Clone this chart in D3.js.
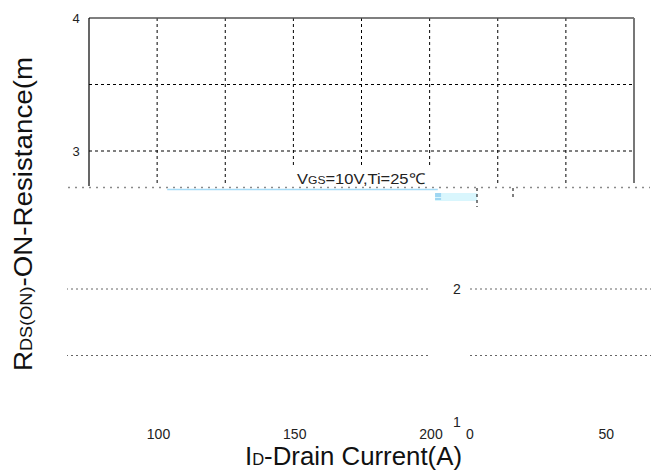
<!DOCTYPE html>
<html><head><meta charset="utf-8">
<script src="https://cdn.jsdelivr.net/npm/d3@7"></script>
<style>body{margin:0;background:#fff}svg{display:block}text{font-family:"Liberation Sans",Arial,sans-serif}</style>
</head><body><svg id="c" width="658" height="473"></svg>
<script>
// ---- data ----
const xTicks = [0, 50, 100, 150, 200];
const xGrid = [25, 50, 75, 100, 125, 150, 175];
const yTicksTop = [4, 3];
const yTicksBottom = [2, 1];
const yGridTop = [3.5, 3];
const yGridBottom = [2, 1.5];
const seriesX = [28.7, 128];
const seriesY = [2.71, 2.71];
const legendMain = "V", legendSub = "GS", legendRest = "=10V,Ti=25℃";

const svg = d3.select("#c");
const x = d3.scaleLinear().domain([0, 200]).range([89, 634]);
const y = d3.scaleLinear().domain([1, 4]).range([417, 18]);

const defs = svg.append("defs");
defs.append("clipPath").attr("id","topclip").append("rect").attr("x",0).attr("y",0).attr("width",658).attr("height",186);
defs.append("clipPath").attr("id","botclip").append("rect").attr("x",67).attr("y",188).attr("width",584).attr("height",285);

// ---- top (intact) part ----
const gTop = svg.append("g").attr("clip-path","url(#topclip)");
gTop.selectAll(".hg").data(yGridTop).join("line")
  .attr("x1", x(0)).attr("x2", x(200)).attr("y1", d=>y(d)).attr("y2", d=>y(d))
  .attr("stroke","#000").attr("stroke-dasharray","3,3");
gTop.selectAll(".vg").data(xGrid).join("line")
  .attr("x1", d=>x(d)).attr("x2", d=>x(d)).attr("y1", y(4)).attr("y2", 185)
  .attr("stroke","#000").attr("stroke-dasharray","3,3");
gTop.append("line").attr("x1",x(0)).attr("x2",x(200)).attr("y1",y(4)).attr("y2",y(4)).attr("stroke","#555").attr("stroke-width",1.5);
gTop.append("line").attr("x1",x(0)).attr("x2",x(0)).attr("y1",y(4)).attr("y2",187).attr("stroke","#000").attr("stroke-width",1.2);
gTop.append("line").attr("x1",x(200)).attr("x2",x(200)).attr("y1",y(4)).attr("y2",183).attr("stroke","#777").attr("stroke-width",2);
gTop.selectAll(".yt").data(yTicksTop).join("text")
  .attr("x", x(0)-13).attr("y", d=>y(d)).attr("dy","0.36em").attr("text-anchor","middle")
  .attr("font-size",13).attr("fill","#222").text(d=>d);

// legend box
svg.append("rect").attr("x",292).attr("y",168).attr("width",140).attr("height",18).attr("fill","#fff");

// ---- glitch strip ----
svg.append("line").attr("x1",68).attr("x2",650).attr("y1",187.5).attr("y2",187.5)
  .attr("stroke","#8a8a8a").attr("stroke-dasharray","2,5").attr("stroke-width",1.5);
svg.append("line").attr("x1",x(seriesX[0])).attr("x2",x(seriesX[1]))
  .attr("y1",y(seriesY[0])).attr("y2",y(seriesY[1])).attr("stroke","#a6dcf7").attr("stroke-width",1.5);
svg.append("rect").attr("x",x(127)).attr("y",193).attr("width",42).attr("height",8).attr("fill","#d9f6fd");
svg.append("rect").attr("x",x(127)).attr("y",193).attr("width",6).attr("height",4).attr("fill","#9fd6f2");
svg.append("rect").attr("x",x(127)).attr("y",198).attr("width",6).attr("height",2).attr("fill","#9fd6f2");
svg.selectAll(".frag").data([[477,188,207],[513,188,200]]).join("line")
  .attr("x1",d=>d[0]).attr("x2",d=>d[0]).attr("y1",d=>d[1]).attr("y2",d=>d[2])
  .attr("stroke","#000").attr("stroke-dasharray","3,3");

// legend text
const lt = svg.append("text").attr("x",297).attr("y",184).attr("font-size",15).attr("fill","#222")
  .attr("textLength",128).attr("lengthAdjust","spacingAndGlyphs");
lt.append("tspan").text(legendMain);
lt.append("tspan").attr("font-size",11).text(legendSub);
lt.append("tspan").text(legendRest);

// ---- bottom (displaced) part ----
const botOuter = svg.append("g").attr("clip-path","url(#botclip)");
const inView = (px, dx) => px + dx > 72 && px + dx < 646;
[381, -203].forEach(dx => {
  const g = botOuter.append("g").attr("transform",`translate(${dx},5)`);
  g.selectAll(".bg").data(yGridBottom).join("line")
    .attr("x1", x(0)).attr("x2", x(200)).attr("y1", d=>y(d)).attr("y2", d=>y(d))
    .attr("stroke","#666").attr("stroke-dasharray","2,3");
  g.selectAll(".byt").data(yTicksBottom.filter(() => inView(x(0)-13, dx))).join("text")
    .attr("x", x(0)-13).attr("y", d=>y(d)).attr("dy","0.36em").attr("text-anchor","middle")
    .attr("font-size",14).attr("fill","#222").text(d=>d);
  g.selectAll(".xt").data(xTicks.filter(d => inView(x(d), dx))).join("text")
    .attr("x", d=>x(d)).attr("y", y(1)+12).attr("dy","0.36em").attr("text-anchor","middle")
    .attr("font-size",14).attr("fill","#222").text(d=>d);
});

// ---- axis titles ----
const xt = svg.append("text").attr("x",245).attr("y",465).attr("font-size",25).attr("fill","#111")
  .attr("textLength",217).attr("lengthAdjust","spacingAndGlyphs");
xt.append("tspan").text("I");
xt.append("tspan").attr("font-size",16).text("D");
xt.append("tspan").text("-Drain Current(A)");

const yt = svg.append("text").attr("transform","translate(32,371) rotate(-90)").attr("font-size",26).attr("fill","#111")
  .attr("textLength",314).attr("lengthAdjust","spacingAndGlyphs");
yt.append("tspan").text("R");
yt.append("tspan").attr("font-size",17).text("DS(ON)");
yt.append("tspan").text("-ON-Resistance(m");
</script></body></html>
